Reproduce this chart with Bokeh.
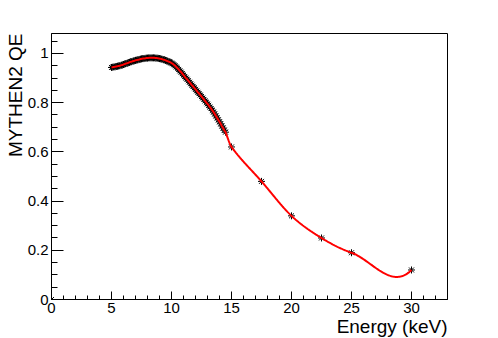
import numpy as np
from bokeh.plotting import figure
from bokeh.models import FixedTicker, Range1d, CustomJSTickFormatter, Title
from bokeh.embed import file_html
from bokeh.resources import INLINE

# ---- data ----
scan_energy = [5.0, 5.1, 5.2, 5.3, 5.4, 5.5, 5.6, 5.7, 5.8, 5.9,
               6.0, 6.1, 6.2, 6.3, 6.4, 6.5, 6.6, 6.7, 6.8, 6.9,
               7.0, 7.1, 7.2, 7.3, 7.4, 7.5, 7.6, 7.7, 7.8, 7.9,
               8.0, 8.1, 8.2, 8.3, 8.4, 8.5, 8.6, 8.7, 8.8, 8.9,
               9.0, 9.1, 9.2, 9.3, 9.4, 9.5, 9.6, 9.7, 9.8, 9.9,
               10.0, 10.1, 10.2, 10.3, 10.4, 10.5, 10.6, 10.7, 10.8, 10.9,
               11.0, 11.1, 11.2, 11.3, 11.4, 11.5, 11.6, 11.7, 11.8, 11.9,
               12.0, 12.1, 12.2, 12.3, 12.4, 12.5, 12.6, 12.7, 12.8, 12.9,
               13.0, 13.1, 13.2, 13.3, 13.4, 13.5, 13.6, 13.7, 13.8, 13.9,
               14.0, 14.1, 14.2, 14.3, 14.4, 14.5]
scan_qe = [0.943, 0.944, 0.945, 0.946, 0.947, 0.948, 0.949, 0.950, 0.952, 0.953,
           0.955, 0.957, 0.959, 0.960, 0.962, 0.964, 0.966, 0.967, 0.969, 0.970,
           0.972, 0.973, 0.974, 0.975, 0.977, 0.978, 0.979, 0.979, 0.980, 0.981,
           0.981, 0.982, 0.982, 0.982, 0.982, 0.982, 0.982, 0.981, 0.981, 0.980,
           0.979, 0.978, 0.977, 0.975, 0.974, 0.972, 0.970, 0.968, 0.966, 0.964,
           0.961, 0.958, 0.954, 0.950, 0.945, 0.940, 0.935, 0.929, 0.924, 0.918,
           0.912, 0.906, 0.900, 0.895, 0.889, 0.883, 0.877, 0.871, 0.866, 0.860,
           0.854, 0.848, 0.842, 0.837, 0.831, 0.825, 0.819, 0.813, 0.807, 0.801,
           0.795, 0.789, 0.782, 0.776, 0.769, 0.762, 0.754, 0.746, 0.738, 0.730,
           0.722, 0.714, 0.705, 0.697, 0.688, 0.680]
point_energy = [15.0, 17.5, 20.0, 22.5, 25.0, 30.0]
point_qe = [0.62, 0.48, 0.34, 0.25, 0.19, 0.12]
origin_energy = [0.0]
origin_qe = [0.0]

# end slopes of the drawn smooth curve
start_slope = 0.010
end_slope = 0.050

x_major_ticks = [0, 5, 10, 15, 20, 25, 30]
y_major_ticks = [0.0, 0.2, 0.4, 0.6, 0.8, 1.0]
x_title = "Energy (keV)"
y_title = "MYTHEN2 QE"


def hermite_curve(xs, ys, s0, sn, per_seg=12):
    """Smooth local cubic (Catmull-Rom style) curve through the points."""
    xs = np.asarray(xs, float)
    ys = np.asarray(ys, float)
    n = len(xs)
    m = np.zeros(n)
    m[0] = s0
    m[-1] = sn
    for i in range(1, n - 1):
        m[i] = (ys[i + 1] - ys[i - 1]) / (xs[i + 1] - xs[i - 1])
    cx, cy = [], []
    for i in range(n - 1):
        h = xs[i + 1] - xs[i]
        k = per_seg if h < 1 else 60
        t = np.linspace(0, 1, k, endpoint=False)
        h00 = 2 * t ** 3 - 3 * t ** 2 + 1
        h10 = t ** 3 - 2 * t ** 2 + t
        h01 = -2 * t ** 3 + 3 * t ** 2
        h11 = t ** 3 - t ** 2
        cx.extend(xs[i] + t * h)
        cy.extend(h00 * ys[i] + h10 * h * m[i] + h01 * ys[i + 1] + h11 * h * m[i + 1])
    cx.append(xs[-1])
    cy.append(ys[-1])
    return cx, cy


all_e = scan_energy + point_energy
all_q = scan_qe + point_qe
curve_e, curve_q = hermite_curve(all_e, all_q, start_slope, end_slope)

FONT = "Liberation Sans"

p = figure(width=498, height=338, output_backend="svg", toolbar_location=None,
           x_range=Range1d(0, 33), y_range=Range1d(0, 1.081),
           min_border_left=51, min_border_right=51, min_border_top=33, min_border_bottom=39)
p.xgrid.visible = False
p.ygrid.visible = False
p.outline_line_color = "black"
p.outline_line_alpha = 1.0
p.outline_line_width = 1
p.background_fill_color = "white"
p.border_fill_color = "white"

p.scatter(all_e, all_q, marker="asterisk", size=7, line_color="black", line_width=1)
p.scatter(origin_energy, origin_qe, marker="asterisk", size=7, line_color="black", line_width=1)
p.line(curve_e, curve_q, line_color="#ff0000", line_width=2)

xa = p.xaxis[0]
xa.ticker = FixedTicker(ticks=x_major_ticks, minor_ticks=list(range(0, 34)))
xa.major_tick_in = 8
xa.major_tick_out = 0
xa.minor_tick_in = 4
xa.minor_tick_out = 0
xa.major_label_standoff = 3
xa.major_label_text_font = FONT
xa.major_label_text_font_size = "15px"
xa.major_label_text_color = "black"
xa.axis_line_color = "black"
xa.major_tick_line_color = "black"
xa.minor_tick_line_color = "black"

ya = p.yaxis[0]
ya.ticker = FixedTicker(ticks=y_major_ticks, minor_ticks=[i * 0.05 for i in range(22)])
ya.formatter = CustomJSTickFormatter(code="return tick.toFixed(1).replace(/\\.0$/, '');")
ya.major_tick_in = 12
ya.major_tick_out = 0
ya.minor_tick_in = 6
ya.minor_tick_out = 0
ya.major_label_standoff = 3
ya.major_label_text_font = FONT
ya.major_label_text_font_size = "15px"
ya.major_label_text_color = "black"
ya.axis_line_color = "black"
ya.major_tick_line_color = "black"
ya.minor_tick_line_color = "black"

x_title_obj = Title(text=x_title, align="right", text_font=FONT, text_font_size="19px",
                    text_font_style="normal", text_color="black", standoff=-3)
y_title_obj = Title(text=y_title, align="right", text_font=FONT, text_font_size="19px",
                    text_font_style="normal", text_color="black", standoff=-3)
p.add_layout(x_title_obj, "below")
p.add_layout(y_title_obj, "left")

open("out.html", "w").write(file_html(p, INLINE))
